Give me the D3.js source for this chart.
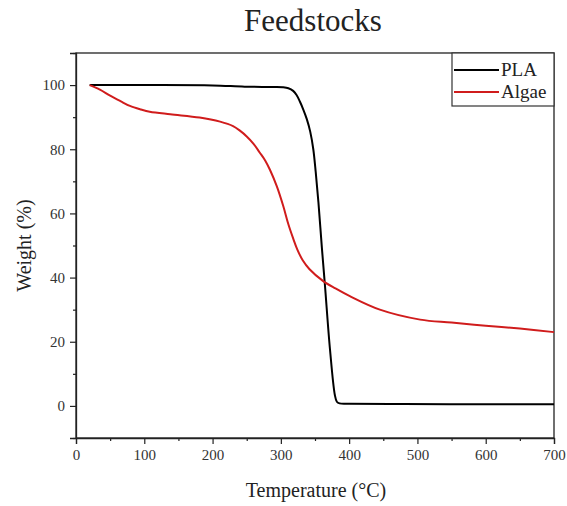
<!DOCTYPE html>
<html>
<head>
<meta charset="utf-8">
<script src="https://cdn.jsdelivr.net/npm/d3@7"></script>
<style>
  body { margin: 0; background: #fff; }
</style>
</head>
<body>
<svg id="chart"></svg>
<script>
// PLA curve, temperature (°C) vs weight (%)
const plaTemp   = [20, 100, 200, 247, 290, 303, 311, 318, 323, 328, 333, 338, 343, 347.5, 351, 355, 360, 364.6, 372, 379, 382, 386, 400, 480, 600, 700];
const plaWeight = [100, 100, 99.9, 99.5, 99.4, 99.3, 99.0, 98.2, 96.9, 94.8, 92.3, 89.4, 85.5, 80, 73, 63.5, 49.5, 37.5, 17.5, 3.5, 1.3, 0.8, 0.7, 0.6, 0.5, 0.5];

// Algae curve
const algaeTemp   = [20, 35, 50, 65, 79, 95, 108, 138, 181, 211, 230, 240, 250, 260, 269, 277, 284, 294, 303.5, 311, 318, 324, 332, 342, 362, 380, 401, 445, 504, 550, 600, 650, 700];
const algaeWeight = [100, 98.6, 96.7, 95, 93.5, 92.4, 91.7, 90.9, 89.9, 88.6, 87.2, 85.8, 84, 81.7, 79, 76.5, 73.6, 68.5, 62.3, 56.6, 52.2, 48.8, 45.4, 42.6, 38.9, 36.6, 34.2, 30, 26.9, 26, 25, 24.1, 23];

const xTicks = [0, 100, 200, 300, 400, 500, 600, 700];
const yTicks = [0, 20, 40, 60, 80, 100];

const seriesNames = ["PLA", "Algae"];
const seriesColors = ["#000000", "#d01c1c"];

const width = 567, height = 506;
const margin = { top: 53, right: 13, bottom: 68, left: 76 };
const serif = "'Liberation Serif', 'Times New Roman', serif";

const svg = d3.select("#chart")
    .attr("width", width)
    .attr("height", height)
    .style("font-family", serif);

const x = d3.scaleLinear().domain([0, 700]).range([margin.left, width - margin.right]);
const y = d3.scaleLinear().domain([-10, 110]).range([height - margin.bottom, margin.top]);

// frame
svg.append("rect")
    .attr("x", margin.left)
    .attr("y", margin.top)
    .attr("width", x(700) - x(0))
    .attr("height", y(-10) - y(110))
    .attr("fill", "none")
    .attr("stroke", "#222")
    .attr("stroke-width", 1.3);

// minor ticks
const xMinor = d3.axisBottom(x).tickValues(d3.range(50, 700, 100)).tickSize(3).tickFormat("");
const yMinor = d3.axisLeft(y).tickValues(d3.range(-10, 111, 10).filter(v => v % 20 !== 0)).tickSize(3).tickFormat("");

svg.append("g").attr("transform", `translate(0,${y(-10)})`).call(xMinor)
    .call(g => g.select(".domain").remove());
svg.append("g").attr("transform", `translate(${margin.left},0)`).call(yMinor)
    .call(g => g.select(".domain").remove());

const xAxis = svg.append("g")
    .attr("transform", `translate(0,${y(-10)})`)
    .call(d3.axisBottom(x).tickValues(xTicks).tickSize(6).tickPadding(5));
const yAxis = svg.append("g")
    .attr("transform", `translate(${margin.left},0)`)
    .call(d3.axisLeft(y).tickValues(yTicks).tickSize(6).tickPadding(5));

[xAxis, yAxis].forEach(g => {
    g.attr("font-family", serif).attr("font-size", 15);
    g.select(".domain").attr("stroke", "#222").attr("stroke-width", 1.3);
    g.selectAll(".tick text").attr("fill", "#333");
});
svg.selectAll(".tick line").attr("stroke", "#222").attr("stroke-width", 1.2);

// curves
const line = d3.line()
    .x(d => x(d[0]))
    .y(d => y(d[1]))
    .curve(d3.curveCatmullRom.alpha(0.5));

const series = [
    d3.zip(plaTemp, plaWeight),
    d3.zip(algaeTemp, algaeWeight)
];

svg.append("g")
    .selectAll("path")
    .data(series)
    .join("path")
    .attr("d", line)
    .attr("fill", "none")
    .attr("stroke", (d, i) => seriesColors[i])
    .attr("stroke-width", 2);

// title and axis labels
svg.append("text")
    .attr("x", 313)
    .attr("y", 31)
    .attr("text-anchor", "middle")
    .attr("fill", "#222")
    .style("font-size", "31px")
    .text("Feedstocks");

svg.append("text")
    .attr("x", 316)
    .attr("y", 497)
    .attr("text-anchor", "middle")
    .attr("fill", "#222")
    .style("font-size", "20px")
    .text("Temperature (°C)");

svg.append("text")
    .attr("transform", `translate(31,${y(50)}) rotate(-90)`)
    .attr("text-anchor", "middle")
    .attr("fill", "#222")
    .style("font-size", "20px")
    .text("Weight (%)");

// legend
const legend = svg.append("g");
legend.append("rect")
    .attr("x", 452)
    .attr("y", margin.top)
    .attr("width", x(700) - 452)
    .attr("height", 53)
    .attr("fill", "#fff")
    .attr("stroke", "#333")
    .attr("stroke-width", 1.2);

const items = legend.selectAll("g.item")
    .data(seriesNames)
    .join("g")
    .attr("class", "item")
    .attr("transform", (d, i) => `translate(0,${70 + i * 22})`);

items.append("line")
    .attr("x1", 454).attr("x2", 499)
    .attr("y1", 0).attr("y2", 0)
    .attr("stroke", (d, i) => seriesColors[i])
    .attr("stroke-width", 2);

items.append("text")
    .attr("x", 501)
    .attr("y", 6)
    .attr("fill", "#222")
    .style("font-size", "19px")
    .text(d => d);
</script>
</body>
</html>
